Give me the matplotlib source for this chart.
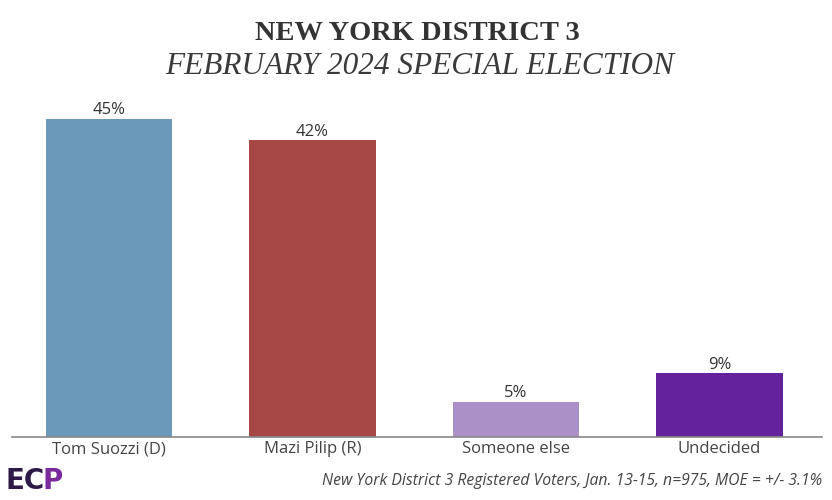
import matplotlib
matplotlib.use("Agg")
import matplotlib.pyplot as plt

categories = ["Tom Suozzi (D)", "Mazi Pilip (R)", "Someone else", "Undecided"]
values = [45, 42, 5, 9]
colors = ["#6A99B9", "#A54846", "#AB90C7", "#64229C"]
title = "NEW YORK DISTRICT 3"
subtitle = "FEBRUARY 2024 SPECIAL ELECTION"
footer = "New York District 3 Registered Voters, Jan. 13-15, n=975, MOE = +/- 3.1%"

fig = plt.figure(figsize=(8.32, 5), dpi=100)
ax = fig.add_axes([12/832, 1-437/500, 810/832, 353.5/500])
x = list(range(len(categories)))
bars = ax.bar(x, values, width=0.62, color=colors)
ax.set_xlim(-0.477, 3.504)
ax.set_ylim(0, 50)
for xi, v in zip(x, values):
    ax.text(xi, v + 0.05, f"{v}%", ha="center", va="bottom", fontsize=12,
            family="Open Sans", color="#333333")
ax.set_xticks(x)
ax.set_xticklabels(categories, fontsize=12, family="Open Sans", color="#444444")
ax.tick_params(axis="x", length=0, pad=3)
ax.set_yticks([])
for s in ["top", "right", "left"]:
    ax.spines[s].set_visible(False)
ax.spines["bottom"].set_color("#888888")
ax.spines["bottom"].set_linewidth(1.2)

fig.text(0.502, 1-33/500, title, ha="center", va="center", fontsize=20.5,
         family="Liberation Serif", weight="bold", color="#333333")
fig.text(0.505, 1-67/500, subtitle, ha="center", va="center", fontsize=22.5,
         family="Liberation Serif", style="italic", color="#3a3a3a")
fig.text(822/832, 1-481/500, footer, ha="right", va="center", fontsize=11.3,
         family="Open Sans", style="italic", color="#444444")
t1 = fig.text(5/832, 1-481/500, "EC", ha="left", va="center", fontsize=20,
              family="DejaVu Sans", weight="bold", color="#2E1A47")
fig.canvas.draw()
bb = t1.get_window_extent()
fig.text((bb.x1 - 2) / 832, 1-481/500, "P", ha="left", va="center", fontsize=20,
         family="DejaVu Sans", weight="bold", color="#7A2A9C")

fig.savefig("out.png", dpi=100)
